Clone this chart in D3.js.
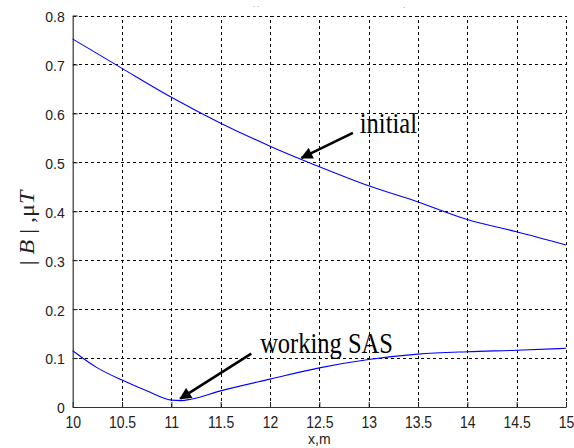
<!DOCTYPE html>
<html>
<head>
<meta charset="utf-8">
<script src="https://cdn.jsdelivr.net/npm/d3@7"></script>
<style>
  html, body { margin: 0; padding: 0; background: #fff; }
  svg { display: block; }
</style>
</head>
<body>
<svg id="chart" width="574" height="448"></svg>
<script>
// ---- data ----
const xTicks = [10, 10.5, 11, 11.5, 12, 12.5, 13, 13.5, 14, 14.5, 15];
const yTicks = [0, 0.1, 0.2, 0.3, 0.4, 0.5, 0.6, 0.7, 0.8];
const xTickLabels = ["10", "10.5", "11", "11.5", "12", "12.5", "13", "13.5", "14", "14.5", "15"];
const yTickLabels = ["0", "0.1", "0.2", "0.3", "0.4", "0.5", "0.6", "0.7", "0.8"];

const initialX = [10, 10.5, 11, 11.5, 12, 12.5, 13, 13.5, 14, 14.5, 15];
const initialB = [0.752, 0.692, 0.633, 0.580, 0.533, 0.491, 0.452, 0.419, 0.383, 0.358, 0.331];

const workingX = [10, 10.25, 10.5, 10.75, 11, 11.1, 11.2, 11.5, 12, 12.5, 13, 13.5, 14, 14.5, 15];
const workingB = [0.115, 0.080, 0.055, 0.033, 0.014, 0.013, 0.016, 0.033, 0.057, 0.080, 0.097, 0.108, 0.113, 0.116, 0.120];

// annotations: [label, text x (data), text y (data), arrow tail (data), arrow tip (data)]
const annotLabels = ["initial", "working SAS"];
const annotTextPos = [[12.91, 0.559], [11.90, 0.110]];
const annotTail = [[12.84, 0.560], [11.81, 0.109]];
const annotTip = [[12.32, 0.509], [11.09, 0.017]];

// ---- drawing ----
const svg = d3.select("#chart");
const L = 72.7, R = 566, T = 15.5, B = 407;
const x = d3.scaleLinear().domain([10, 15]).range([L, R]);
const y = d3.scaleLinear().domain([0, 0.8]).range([B, T]);

const defs = svg.append("defs");
defs.append("marker")
  .attr("id", "ah").attr("viewBox", "0 0 10 10")
  .attr("refX", 9).attr("refY", 5)
  .attr("markerWidth", 5.2).attr("markerHeight", 4.6)
  .attr("markerUnits", "strokeWidth")
  .attr("orient", "auto")
  .append("path").attr("d", "M0,0 L10,5 L0,10 Z").attr("fill", "#000");

// grid
const grid = svg.append("g").attr("stroke", "#000").attr("stroke-width", 1)
  .attr("stroke-dasharray", "3,3").attr("shape-rendering", "crispEdges");
grid.selectAll(".gx").data(xTicks.slice(1)).join("line")
  .attr("x1", d => Math.round(x(d)) + 0.5).attr("x2", d => Math.round(x(d)) + 0.5)
  .attr("y1", B).attr("y2", T);
grid.selectAll(".gy").data(yTicks.slice(1)).join("line")
  .attr("y1", d => Math.round(y(d)) + 0.5).attr("y2", d => Math.round(y(d)) + 0.5)
  .attr("x1", L).attr("x2", R);

// axes
const xAxis = d3.axisBottom(x).tickValues(xTicks)
  .tickFormat((d, i) => xTickLabels[i]).tickSizeInner(-5).tickSizeOuter(0).tickPadding(10);
const yAxis = d3.axisLeft(y).tickValues(yTicks)
  .tickFormat((d, i) => yTickLabels[i]).tickSizeInner(-5).tickSizeOuter(0).tickPadding(8);

const gx = svg.append("g").attr("transform", `translate(0,${B})`).call(xAxis);
const gy = svg.append("g").attr("transform", `translate(${L},0)`).call(yAxis);
[gx, gy].forEach(g => {
  g.select(".domain").attr("stroke", "#333").attr("stroke-width", 1.2);
  g.selectAll(".tick line").attr("stroke", "#222");
  g.selectAll(".tick text").attr("fill", "#222")
    .attr("font-family", "Liberation Sans, Arial, sans-serif").attr("font-size", 14);
});
gx.selectAll(".tick text").attr("transform", "scale(1,1.15)").attr("dy", "0.6em");
gy.selectAll(".tick text").attr("dy", "0.42em");

// lines
const line = d3.line().x(d => x(d[0])).y(d => y(d[1])).curve(d3.curveMonotoneX);
svg.append("path").datum(initialX.map((v, i) => [v, initialB[i]]))
  .attr("d", line).attr("fill", "none").attr("stroke", "#0000ff").attr("stroke-width", 1.1);
svg.append("path").datum(workingX.map((v, i) => [v, workingB[i]]))
  .attr("d", line).attr("fill", "none").attr("stroke", "#0000ff").attr("stroke-width", 1.1);

// annotations
annotLabels.forEach((lab, i) => {
  svg.append("line")
    .attr("x1", x(annotTail[i][0])).attr("y1", y(annotTail[i][1]))
    .attr("x2", x(annotTip[i][0])).attr("y2", y(annotTip[i][1]))
    .attr("stroke", "#000").attr("stroke-width", 2.6)
    .attr("marker-end", "url(#ah)");
  svg.append("text")
    .attr("transform", `translate(${x(annotTextPos[i][0])},${y(annotTextPos[i][1])}) scale(1,1.2)`)
    .attr("font-family", "Liberation Serif, Times New Roman, serif")
    .attr("font-size", 24.5).attr("fill", "#000")
    .text(lab);
});

// axis labels
svg.append("text")
  .attr("transform", `translate(${(L + R) / 2},444) scale(1,1.1)`)
  .attr("text-anchor", "middle")
  .attr("font-family", "Liberation Sans, Arial, sans-serif").attr("font-size", 14).attr("fill", "#222")
  .text("x,m");

const yl = svg.append("text")
  .attr("transform", `translate(34,228) rotate(-90) scale(1.2,1)`)
  .attr("text-anchor", "middle")
  .attr("font-family", "Liberation Serif, Times New Roman, serif").attr("font-size", 20).attr("fill", "#222");
yl.append("tspan").text("| ");
yl.append("tspan").attr("font-style", "italic").text("B");
yl.append("tspan").text(" | ,μ");
yl.append("tspan").attr("font-style", "italic").text("T");

// faint remnants of a cropped title
svg.append("text").attr("x", 256).attr("y", 7).attr("text-anchor", "middle")
  .attr("font-family", "Liberation Sans, Arial, sans-serif").attr("font-size", 8).attr("fill", "#777").text(". .");
svg.append("text").attr("x", 404).attr("y", 8).attr("text-anchor", "middle")
  .attr("font-family", "Liberation Sans, Arial, sans-serif").attr("font-size", 8).attr("fill", "#777").text(".");
</script>
</body>
</html>
